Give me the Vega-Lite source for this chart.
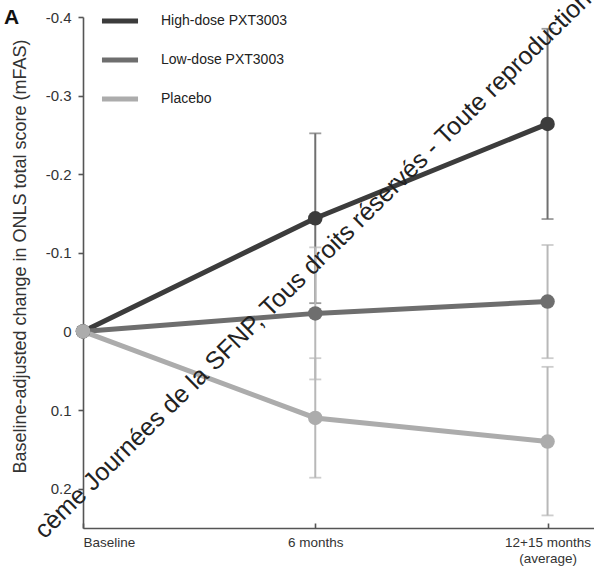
{
  "$schema": "https://vega.github.io/schema/vega-lite/v6.json",
  "width": 511,
  "height": 511,
  "autosize": {"type": "none"},
  "padding": {"left": 83, "top": 17, "right": 0, "bottom": 41},
  "background": "white",
  "config": {
    "view": {"stroke": null},
    "font": "Liberation Sans",
    "axis": {"domainColor": "#555555", "domainWidth": 1.6, "tickColor": "#555555", "tickWidth": 1.6, "labelColor": "#333333", "titleColor": "#333333", "grid": false, "labelFont": "Liberation Sans", "titleFont": "Liberation Sans"}
  },
  "title": {"text": "A", "anchor": "start", "frame": "group", "fontSize": 21, "fontWeight": "bold", "color": "#111111", "dx": -79, "offset": -12, "dy": 30},
  "datasets": {
    "series": [
      {"group": "High-dose PXT3003", "time": 0, "value": 0, "lo": null, "hi": null},
      {"group": "High-dose PXT3003", "time": 1, "value": -0.144, "lo": -0.252, "hi": -0.036},
      {"group": "High-dose PXT3003", "time": 2, "value": -0.264, "lo": -0.385, "hi": -0.143},
      {"group": "Low-dose PXT3003", "time": 0, "value": 0, "lo": null, "hi": null},
      {"group": "Low-dose PXT3003", "time": 1, "value": -0.023, "lo": -0.107, "hi": 0.061},
      {"group": "Low-dose PXT3003", "time": 2, "value": -0.038, "lo": -0.110, "hi": 0.034},
      {"group": "Placebo", "time": 0, "value": 0, "lo": null, "hi": null},
      {"group": "Placebo", "time": 1, "value": 0.110, "lo": 0.034, "hi": 0.186},
      {"group": "Placebo", "time": 2, "value": 0.140, "lo": 0.045, "hi": 0.234}
    ],
    "watermark": [
      {"label": "cème Journées de la SFNP, Tous droits réservés - Toute reproduction", "px": 0.99, "py": -0.085}
    ]
  },
  "resolve": {"scale": {"color": "independent"}},
  "layer": [
    {
      "data": {"name": "series"},
      "transform": [{"filter": "datum.lo != null"}],
      "layer": [
        {"transform": [{"filter": "datum.group == 'High-dose PXT3003'"}],
         "mark": {"type": "rule", "strokeWidth": 2, "color": "#707070"},
         "encoding": {
           "x": {"field": "time", "type": "quantitative"},
           "y": {"field": "lo", "type": "quantitative"},
           "y2": {"field": "hi"}
         }},
        {"transform": [{"filter": "datum.group == 'High-dose PXT3003'"}],
         "mark": {"type": "tick", "orient": "horizontal", "size": 12, "thickness": 1.8, "color": "#707070"},
         "encoding": {
           "x": {"field": "time", "type": "quantitative"},
           "y": {"field": "lo", "type": "quantitative"}
         }},
        {"transform": [{"filter": "datum.group == 'High-dose PXT3003'"}],
         "mark": {"type": "tick", "orient": "horizontal", "size": 12, "thickness": 1.8, "color": "#707070"},
         "encoding": {
           "x": {"field": "time", "type": "quantitative"},
           "y": {"field": "hi", "type": "quantitative"}
         }},
        {"transform": [{"filter": "datum.group != 'High-dose PXT3003'"}],
         "mark": {"type": "rule", "strokeWidth": 2, "color": "#b8b8b8"},
         "encoding": {
           "x": {"field": "time", "type": "quantitative"},
           "y": {"field": "lo", "type": "quantitative"},
           "y2": {"field": "hi"}
         }},
        {"transform": [{"filter": "datum.group != 'High-dose PXT3003'"}],
         "mark": {"type": "tick", "orient": "horizontal", "size": 12, "thickness": 1.8, "color": "#b8b8b8"},
         "encoding": {
           "x": {"field": "time", "type": "quantitative"},
           "y": {"field": "lo", "type": "quantitative"}
         }},
        {"transform": [{"filter": "datum.group != 'High-dose PXT3003'"}],
         "mark": {"type": "tick", "orient": "horizontal", "size": 12, "thickness": 1.8, "color": "#b8b8b8"},
         "encoding": {
           "x": {"field": "time", "type": "quantitative"},
           "y": {"field": "hi", "type": "quantitative"}
         }}
      ]
    },
    {
      "data": {"name": "series"},
      "layer": [
        {"mark": {"type": "line", "strokeWidth": 5},
         "encoding": {
           "x": {"field": "time", "type": "quantitative", "scale": {"domain": [0, 2.2], "nice": false, "zero": false},
                 "axis": {"title": null, "values": [0, 1, 2], "labelExpr": "datum.value == 0 ? 'Baseline' : datum.value == 1 ? '6 months' : ['12+15 months', '(average)']", "labelFlush": true, "labelFontSize": 13.5, "tickSize": -5, "labelPadding": 12, "labelLineHeight": 16}},
           "y": {"field": "value", "type": "quantitative", "scale": {"domain": [-0.4, 0.25], "reverse": true, "nice": false, "zero": false},
                 "axis": {"title": "Baseline-adjusted change in ONLS total score (mFAS)", "values": [-0.4, -0.3, -0.2, -0.1, 0, 0.1, 0.2], "labelExpr": "replace(format(datum.value, '.1~f'), '−', '-')", "labelFontSize": 15, "tickSize": 5, "labelPadding": 7, "titleFontSize": 18, "titleFontWeight": "normal", "titlePadding": 16, "titleY": 239}},
           "color": {"field": "group", "type": "nominal", "scale": {"domain": ["High-dose PXT3003", "Low-dose PXT3003", "Placebo"], "range": ["#3c3c3c", "#6e6e6e", "#acacac"]},
                     "legend": {"title": null, "orient": "none", "legendX": 16, "legendY": -17, "symbolType": "stroke", "symbolSize": 1300, "symbolStrokeWidth": 5, "labelFontSize": 14, "labelColor": "#222222", "labelOffset": 20, "rowPadding": 8, "padding": 0}}
         }},
        {"mark": {"type": "circle", "size": 210, "opacity": 1},
         "encoding": {
           "x": {"field": "time", "type": "quantitative"},
           "y": {"field": "value", "type": "quantitative"},
           "color": {"field": "group", "type": "nominal", "scale": {"domain": ["High-dose PXT3003", "Low-dose PXT3003", "Placebo"], "range": ["#3c3c3c", "#6e6e6e", "#acacac"]}, "legend": null}
         }}
      ],
      "resolve": {"scale": {"color": "shared"}}
    },
    {
      "data": {"name": "watermark"},
      "mark": {"type": "text", "angle": -44.5, "fontSize": 25, "color": "#222222", "align": "center", "baseline": "middle", "font": "Liberation Sans"},
      "encoding": {
        "x": {"field": "px", "type": "quantitative"},
        "y": {"field": "py", "type": "quantitative"},
        "text": {"field": "label"}
      }
    }
  ]
}
